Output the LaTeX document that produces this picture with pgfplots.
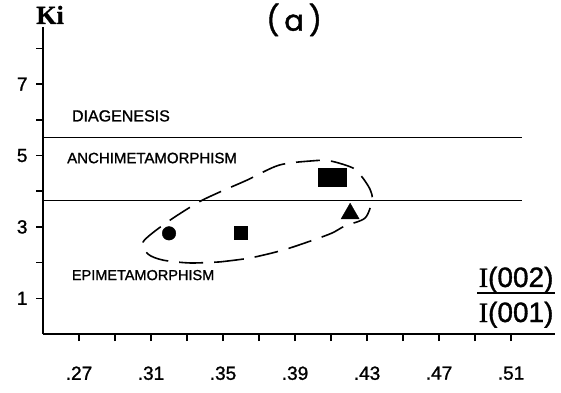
\documentclass[border=0pt]{standalone}
\usepackage{fontspec}
\setmainfont{Liberation Sans}[FakeBold=1.2]
\newfontfamily\serifb{Liberation Serif}[FakeBold=1.0]
\newfontfamily\popp{Poppins}[FakeBold=1.5]
\usepackage{pgfplots}
\pgfplotsset{compat=1.18}
\begin{document}
\begin{tikzpicture}
\path[use as bounding box] (0,0) rectangle (561pt,392pt);
\begin{axis}[
  at={(43pt,58pt)}, anchor=south west, scale only axis,
  width=512pt, height=307pt,
  xmin=0.25, xmax=0.5344, ymin=0, ymax=8.6,
  axis lines=left, axis line style={-, line width=2pt},
  tick align=outside, major tick length=7pt,
  tick style={line width=1.5pt, black},
  xtick={0.27,0.29,0.31,0.33,0.35,0.37,0.39,0.41,0.43,0.45,0.47,0.49,0.51},
  xticklabels={.27,,.31,,.35,,.39,,.43,,.47,,.51},
  ytick={1,2,3,4,5,6,7,8},
  yticklabels={1,,3,,5,,7,},
  ticklabel style={font=\fontsize{19}{19}\selectfont},
  xticklabel style={yshift=-22pt},
  yticklabel style={xshift=-5pt},
  clip=false,
]
% zone boundaries
\addplot[black, line width=1.2pt, no marks] coordinates {(0.25,5.5) (0.516,5.5)};
\addplot[black, line width=1.2pt, no marks] coordinates {(0.25,3.75) (0.516,3.75)};
% dashed envelope
\addplot[black, line width=1.6pt, no marks, smooth, dash pattern=on 24pt off 11pt] coordinates {
(0.3483,2.02) (0.3650,2.13) (0.3833,2.35) (0.4000,2.63) (0.4106,2.83) (0.4178,3.03)
(0.4289,3.25) (0.4328,3.75) (0.4317,4.05) (0.4272,4.40) (0.4222,4.65) (0.4094,4.85)
(0.3994,4.85) (0.3811,4.73) (0.3633,4.31) (0.3483,3.98) (0.3356,3.67) (0.3183,3.11)
(0.3056,2.58) (0.3083,2.24) (0.3167,2.07) (0.3317,1.99) (0.3483,2.02)};
% samples
\addplot[only marks, black, mark=*, mark size=6.8pt] coordinates {(0.32,2.82)};
\addplot[only marks, black, mark=square*, mark size=6.5pt] coordinates {(0.3598,2.84)};
\addplot[only marks, black, mark=square*, mark size=9pt, mark options={xscale=1.55}] coordinates {(0.4106,4.40)};
\addplot[only marks, black, mark=triangle*, mark size=10.5pt] coordinates {(0.4206,3.37)};
% texts
\node[font=\fontsize{16}{16}\selectfont] at (axis cs:0.2933,6.11) {DIAGENESIS};
\node[font=\fontsize{15}{15}\selectfont] at (axis cs:0.3106,4.93) {ANCHIMETAMORPHISM};
\node[font=\fontsize{14.5}{14.5}\selectfont] at (axis cs:0.3056,1.65) {EPIMETAMORPHISM};
\node[font=\fontsize{28}{28}\selectfont, anchor=base] at (axis cs:0.5128,1.317) {{\serifb I}(002)};
\node[font=\fontsize{28}{28}\selectfont, anchor=base] at (axis cs:0.5128,0.336) {{\serifb I}(001)};
\draw[line width=1.8pt] (axis cs:0.4911,1.148) -- (axis cs:0.5344,1.148);
\node[font=\popp\fontsize{29}{29}\selectfont] at (axis cs:0.3895,8.8) {(\,a\,)};
\node[font=\serifb\bfseries\fontsize{26}{26}\selectfont] at (axis cs:0.2539,8.94) {Ki};
\end{axis}
\end{tikzpicture}
\end{document}
